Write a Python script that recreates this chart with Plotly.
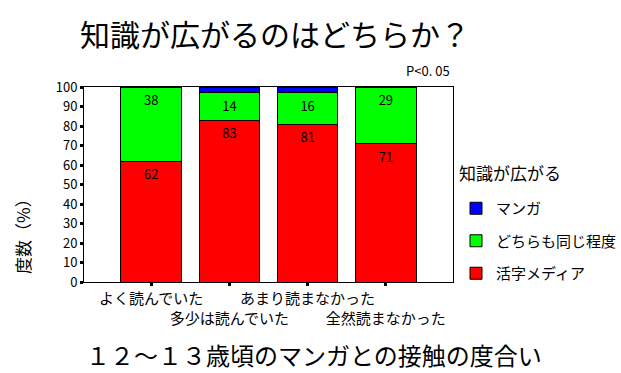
import plotly.graph_objects as go

categories = ["よく読んでいた", "多少は読んでいた", "あまり読まなかった", "全然読まなかった"]
media = [62, 83, 81, 71]
both = [38, 14, 16, 29]
manga = [0, 3, 3, 0]
series_names = ["活字メディア", "どちらも同じ程度", "マンガ"]
yticks = [0, 10, 20, 30, 40, 50, 60, 70, 80, 90, 100]

FONT = "Noto Sans CJK JP, sans-serif"
W, H = 621, 373
L, R, T, B = 84, 453, 87, 282


def px(x):
    return (x - L) / (R - L)


def py(y):
    return (B - y) / (B - T)


ticktext = [c if i % 2 == 0 else "<br>" + c for i, c in enumerate(categories)]
xs = list(range(len(categories)))

fig = go.Figure()
fig.add_trace(go.Bar(
    x=xs, y=media, name=series_names[0], marker=dict(color="#FF0000", line=dict(color="black", width=1)),
    text=[str(v) for v in media], textposition="inside", insidetextanchor="end",
    textangle=0, constraintext="none",
    textfont=dict(color="black", size=13, family=FONT), legendrank=3, legendgroup="c", width=0.775))
fig.add_trace(go.Bar(
    x=xs, y=both, name=series_names[1], marker=dict(color="#00FF00", line=dict(color="black", width=1)),
    text=[str(v) for v in both], textposition="inside", insidetextanchor="end",
    textangle=0, constraintext="none",
    textfont=dict(color="black", size=13, family=FONT), legendrank=2, legendgroup="b", width=0.775))
fig.add_trace(go.Bar(
    x=xs, y=manga, name=series_names[2], marker=dict(color="#0000FF", line=dict(color="black", width=1)),
    legendrank=1, legendgroup="a", width=0.775))

fig.update_layout(
    width=W, height=H,
    margin=dict(l=L, r=W - R, t=T, b=H - B, autoexpand=False),
    barmode="stack",
    plot_bgcolor="white", paper_bgcolor="white",
    font=dict(family=FONT, color="black"),
    showlegend=True,
    legend=dict(
        x=px(456), y=py(192), xanchor="left", yanchor="top",
        traceorder="grouped", tracegroupgap=10,
        font=dict(size=15, family=FONT), itemwidth=30,
    ),
    xaxis=dict(
        range=[-0.858, len(categories) - 1 + 0.858],
        tickmode="array", tickvals=xs, ticktext=ticktext, tickangle=0,
        tickfont=dict(size=15, family=FONT),
        showline=True, linecolor="black", linewidth=1, mirror=True,
        ticks="outside", ticklen=3, tickwidth=3, tickcolor="black",
        showgrid=False, zeroline=False,
    ),
    yaxis=dict(
        range=[0, 100], tickvals=yticks,
        tickfont=dict(size=13, family=FONT),
        showline=True, linecolor="black", linewidth=1, mirror=True,
        ticks="outside", ticklen=3, tickwidth=3, tickcolor="black",
        showgrid=False, zeroline=False,
    ),
    annotations=[
        dict(text="知識が広がるのはどちらか？", x=px(275), y=py(33), xref="paper", yref="paper",
             showarrow=False, font=dict(size=30, family=FONT), xanchor="center", yanchor="middle"),
        dict(text="P<0. 05", x=px(452), y=py(70), xref="paper", yref="paper",
             showarrow=False, font=dict(size=13, family=FONT), xanchor="right", yanchor="middle"),
        dict(text="度数（%）", x=px(22), y=py(232), xref="paper", yref="paper", textangle=-90,
             showarrow=False, font=dict(size=17, family=FONT), xanchor="center", yanchor="middle"),
        dict(text="知識が広がる", x=px(457), y=py(172), xref="paper", yref="paper",
             showarrow=False, font=dict(size=17, family=FONT), xanchor="left", yanchor="middle"),
        dict(text="１２～１３歳頃のマンガとの接触の度合い", x=px(314), y=py(354), xref="paper", yref="paper",
             showarrow=False, font=dict(size=24, family=FONT), xanchor="center", yanchor="middle"),
    ],
)

fig.write_html("out.html", config={"displayModeBar": False},
               post_script="document.body.style.margin='0';")
